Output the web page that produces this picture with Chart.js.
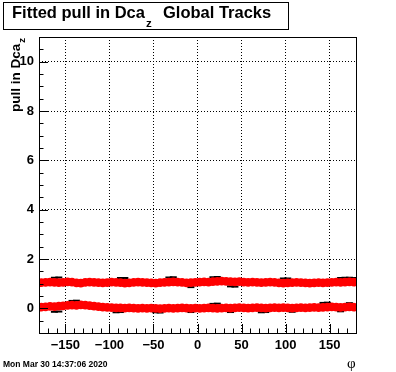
<!DOCTYPE html>
<html>
<head>
<meta charset="utf-8">
<script src="https://cdn.jsdelivr.net/npm/chart.js@4.4.0/dist/chart.umd.min.js"></script>
<style>
  body { margin: 0; background: #fff; }
  canvas { display: block; }
</style>
</head>
<body>
<canvas id="pull-chart" width="396" height="372"></canvas>
<script>
// phi bin centres (5 degree bins)
let phiBins = [-177.5,-172.5,-167.5,-162.5,-157.5,-152.5,-147.5,-142.5,-137.5,-132.5,-127.5,-122.5,
  -117.5,-112.5,-107.5,-102.5,-97.5,-92.5,-87.5,-82.5,-77.5,-72.5,-67.5,-62.5,
  -57.5,-52.5,-47.5,-42.5,-37.5,-32.5,-27.5,-22.5,-17.5,-12.5,-7.5,-2.5,
  2.5,7.5,12.5,17.5,22.5,27.5,32.5,37.5,42.5,47.5,52.5,57.5,
  62.5,67.5,72.5,77.5,82.5,87.5,92.5,97.5,102.5,107.5,112.5,117.5,
  122.5,127.5,132.5,137.5,142.5,147.5,152.5,157.5,162.5,167.5,172.5,177.5];

// fitted sigma of the pull (red) and the black points underneath
let sigmaRed = [1.04,1.05,1.06,1.05,1.04,1.05,1.07,1.06,1.03,1.02,1.05,1.06,
  1.05,1.04,1.03,1.04,1.06,1.05,1.04,1.02,1.03,1.05,1.06,1.05,
  1.04,1.03,1.02,1.04,1.05,1.06,1.07,1.06,1.05,1.03,1.04,1.05,
  1.06,1.07,1.06,1.08,1.09,1.10,1.09,1.08,1.07,1.08,1.06,1.05,
  1.06,1.05,1.04,1.05,1.06,1.05,1.03,1.02,1.03,1.04,1.05,1.04,
  1.03,1.02,1.03,1.04,1.03,1.04,1.05,1.06,1.05,1.06,1.07,1.06];
let sigmaBlack = [1.06,1.08,1.10,1.24,1.25,1.06,1.05,1.07,1.04,1.03,1.07,1.08,
  1.06,1.05,1.04,1.05,1.07,1.06,1.23,1.23,1.04,1.06,1.00,0.98,
  1.02,1.04,1.03,1.05,1.04,1.25,1.26,1.07,1.06,1.04,0.86,1.06,
  1.08,1.06,1.07,1.26,1.27,1.11,1.08,0.89,0.88,1.09,1.07,1.06,
  1.07,1.06,1.05,1.04,1.07,1.06,1.04,1.21,1.21,1.05,1.06,1.05,
  1.04,1.03,1.04,1.05,1.04,1.05,1.06,1.07,1.23,1.24,1.24,1.23];

// fitted mean of the pull
let meanRed = [0.05,0.06,0.08,0.07,0.09,0.10,0.12,0.13,0.12,0.14,0.13,0.11,
  0.09,0.07,0.05,0.04,0.03,0.02,0.02,0.01,0.02,0.01,0.00,0.01,
  0.00,0.01,0.00,-0.01,0.00,0.01,0.00,0.01,0.02,0.01,0.00,0.01,
  0.00,0.01,0.02,0.01,0.00,0.01,0.02,0.01,0.02,0.03,0.02,0.01,
  0.02,0.03,0.02,0.01,0.02,0.03,0.02,0.03,0.02,0.01,0.02,0.03,
  0.02,0.03,0.04,0.03,0.04,0.05,0.06,0.05,0.04,0.05,0.06,0.05];
let meanBlack = [0.03,0.05,0.07,-0.14,-0.13,0.09,0.11,0.30,0.31,0.13,0.12,0.10,
  0.08,0.06,0.04,0.03,0.02,-0.16,-0.15,0.00,0.01,0.00,-0.01,0.00,
  -0.01,0.00,-0.16,-0.17,0.01,0.00,0.01,0.00,0.01,0.02,-0.15,0.00,
  0.01,0.00,0.01,0.18,0.19,0.00,0.01,-0.15,0.01,0.02,0.01,0.00,
  0.01,0.02,-0.16,-0.15,0.01,0.02,0.01,0.02,0.01,-0.14,0.01,0.02,
  0.01,0.02,0.03,0.02,0.22,0.23,0.05,0.04,-0.12,0.04,0.21,0.06];

let xTicks = [-150,-100,-50,0,50,100,150];
let yTicks = [0,2,4,6,8,10];

const toPoints = (ys) => ys.map((y, i) => ({x: phiBins[i], y: y}));
const font = "'Liberation Sans', Arial, sans-serif";

// ROOT style frame, inward ticks and texts
const rootFrame = {
  id: 'rootFrame',
  afterDatasetsDraw(chart) {
    const {ctx, chartArea: a, scales: {x, y}} = chart;
    ctx.save();
    ctx.strokeStyle = '#000';
    ctx.lineWidth = 1;
    ctx.beginPath();
    // x ticks every 10, longer at labelled ones
    for (let v = -180; v <= 180; v += 10) {
      let px = Math.round(x.getPixelForValue(v)) + 0.5;
      let len = xTicks.includes(v) ? 9 : 4.5;
      ctx.moveTo(px, a.bottom);
      ctx.lineTo(px, a.bottom - len);
    }
    for (let v = -1; v <= 11; v += 0.5) {
      let py = Math.round(y.getPixelForValue(v)) + 0.5;
      let len = yTicks.includes(v) ? 9 : 4.5;
      ctx.moveTo(a.left, py);
      ctx.lineTo(a.left + len, py);
    }
    ctx.stroke();
    ctx.strokeRect(Math.round(a.left) + 0.5, Math.round(a.top) + 0.5,
      Math.round(a.right - a.left), Math.round(a.bottom - a.top));

    // title box
    ctx.fillStyle = '#fff';
    ctx.fillRect(3, 2, 285, 27);
    ctx.strokeRect(3.5, 2.5, 285, 27);
    ctx.fillStyle = '#000';
    ctx.textBaseline = 'alphabetic';
    ctx.textAlign = 'left';
    ctx.font = "bold 16.5px " + font;
    ctx.fillText('Fitted pull in Dca', 12, 18);
    let w = ctx.measureText('Fitted pull in Dca').width;
    ctx.font = "bold 11.5px " + font;
    ctx.fillText('z', 13 + w, 27);
    ctx.font = "bold 16.5px " + font;
    ctx.fillText('Global Tracks', 163, 18);

    // y axis title
    ctx.save();
    ctx.translate(20, 112);
    ctx.rotate(-Math.PI / 2);
    ctx.font = "bold 13.5px " + font;
    ctx.fillText('pull in Dca', 0, 0);
    let wy = ctx.measureText('pull in Dca').width;
    ctx.font = "bold 9.5px " + font;
    ctx.fillText('z', wy + 1, 5);
    ctx.restore();

    // x axis title and date stamp
    ctx.font = "15px 'Liberation Serif', serif";
    ctx.fillText('\u03c6', 347, 368);
    ctx.font = "bold 8.5px " + font;
    ctx.fillText('Mon Mar 30 14:37:06 2020', 3, 367);
    ctx.restore();
  }
};

new Chart("pull-chart", {
  type: "scatter",
  data: {
    datasets: [{
      label: "sigma black",
      data: toPoints(sigmaBlack),
      order: 2,
      pointStyle: 'line',
      pointRadius: 3.5,
      borderWidth: 2,
      borderColor: '#000',
      backgroundColor: '#000'
    }, {
      label: "mean black",
      data: toPoints(meanBlack),
      order: 2,
      pointStyle: 'line',
      pointRadius: 3.5,
      borderWidth: 2,
      borderColor: '#000',
      backgroundColor: '#000'
    }, {
      label: "sigma",
      data: toPoints(sigmaRed),
      order: 1,
      pointRadius: 4.4,
      borderWidth: 0,
      backgroundColor: '#ff0000'
    }, {
      label: "mean",
      data: toPoints(meanRed),
      order: 1,
      pointRadius: 4.4,
      borderWidth: 0,
      backgroundColor: '#ff0000'
    }]
  },
  options: {
    responsive: false,
    animation: false,
    events: [],
    layout: {
      padding: {top: 37, right: 40, left: 0, bottom: 0}
    },
    plugins: {
      legend: {display: false},
      tooltip: {enabled: false},
      title: {display: false}
    },
    scales: {
      x: {
        type: 'linear',
        min: -180,
        max: 180,
        afterBuildTicks: (scale) => { scale.ticks = xTicks.map(v => ({value: v})); },
        afterFit: (scale) => { scale.height = 39; },
        grid: {color: '#000', lineWidth: 1, drawTicks: false},
        border: {display: false, dash: [1, 2]},
        ticks: {
          padding: 5,
          color: '#000',
          font: {family: font, size: 13, weight: 'bold'},
          callback: (v) => v < 0 ? '\u2212' + Math.abs(v) : '' + v
        }
      },
      y: {
        min: -1,
        max: 11,
        afterBuildTicks: (scale) => { scale.ticks = yTicks.map(v => ({value: v})); },
        afterFit: (scale) => { scale.width = 39; },
        grid: {color: '#000', lineWidth: 1, drawTicks: false},
        border: {display: false, dash: [1, 2]},
        ticks: {
          padding: 5,
          color: '#000',
          font: {family: font, size: 13, weight: 'bold'}
        }
      }
    }
  },
  plugins: [rootFrame]
});
</script>
</body>
</html>
